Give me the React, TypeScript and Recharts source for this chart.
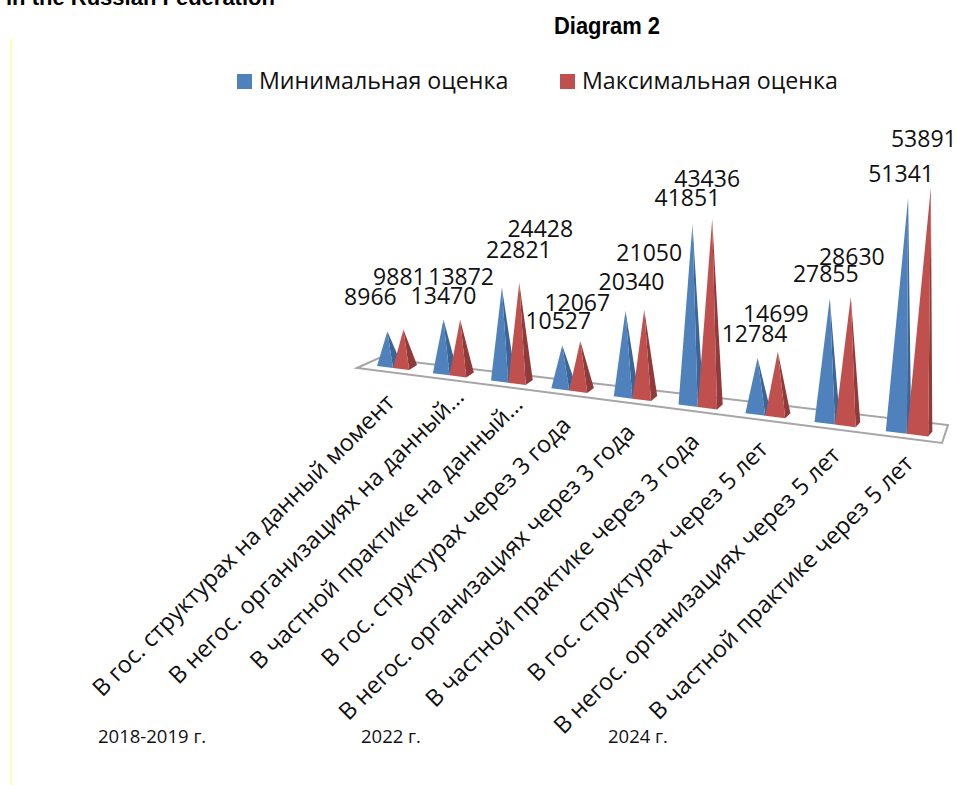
import { BarChart, Bar, XAxis, YAxis, Legend, LabelList, Customized } from 'recharts'

const categories = [
  'В гос. структурах на данный момент',
  'В негос. организациях на данный…',
  'В частной практике на данный…',
  'В гос. структурах через 3 года',
  'В негос. организациях через 3 года',
  'В частной практике через 3 года',
  'В гос. структурах через 5 лет',
  'В негос. организациях через 5 лет',
  'В частной практике через 5 лет',
]
const minValues = [8966, 13470, 22821, 10527, 20340, 41851, 12784, 27855, 51341]
const maxValues = [9881, 13872, 24428, 12067, 21050, 43436, 14699, 28630, 53891]
const periods = ['2018-2019 г.', '2022 г.', '2024 г.']

const data = categories.map((name, i) => ({ name, min: minValues[i], max: maxValues[i] }))

const FONT = '"Open Sans", sans-serif'
const PLOT_LEFT = 20
const BAND = 100
const GAP = 21

// perspective: plot units along the axis -> screen
const projectX = (t: number) => 377 + 54.8 * t + 1.1 * t * t
const floorY = (sx: number) => 366 + 0.128 * (sx - 377)
const toT = (x: number) => (x - PLOT_LEFT - GAP) / BAND

function apexOf(x: number, width: number, height: number) {
  const left = projectX(toT(x))
  const right = projectX(toT(x + width))
  const w = right - left
  const mid = (left + right) / 2
  const h = height * (1 + (0.15 * (mid - 390)) / 530)
  const u = (left - 377) / 508
  return {
    left,
    right,
    ax: left + (0.65 - 0.15 * u) * w + 0.05 * h * u * u,
    ay: floorY(mid) - h,
  }
}

function Cone(props: any) {
  const { x, width, height, fill, side } = props
  const { left, right, ax, ay } = apexOf(x, width, height)
  const sideDx = 8 - (4 * (left - 377)) / 550
  const front = `${left},${floorY(left)} ${right},${floorY(right)} ${ax},${ay}`
  const back = `${right},${floorY(right)} ${right + sideDx},${floorY(right) - 5} ${ax},${ay}`
  return (
    <g>
      <polygon points={back} fill={side} />
      <polygon points={front} fill={fill} />
    </g>
  )
}

// data labels were placed by hand in the original
const minNudge = [[-17, -35], [0, -25], [17, -39], [-4, -25], [6, -30], [-5, -27], [-3, -25], [-4, -25], [-7, -25]]
const maxNudge = [[-4, -53], [1, -44], [21, -55], [-3, -39], [5, -58], [-5, -41], [-2, -39], [1, -41], [-7, -49]]
const tickNudge = [1, 14, 14, 1, 2, 1, 2, 5, 6]

const valueLabel = (nudge: number[][]) => (props: any) => {
  const { x, width, height, value, index } = props
  const { ax, ay } = apexOf(x, width, height)
  return (
    <text x={ax + nudge[index][0]} y={ay + nudge[index][1]} textAnchor="middle" dominantBaseline="central"
      fontFamily={FONT} fontSize={23} fill="#111">
      {value}
    </text>
  )
}

function CategoryTick({ x, payload, index }: any) {
  const sx = projectX(toT(x))
  const px = sx + 2 + tickNudge[index]
  const py = floorY(sx) + 37 - tickNudge[index]
  return (
    <text x={px} y={py} textAnchor="end" transform={`rotate(-45 ${px} ${py})`}
      fontFamily={FONT} fontSize={23.5} fill="#111">
      {payload.value}
    </text>
  )
}

function LegendRow({ payload }: any) {
  const lefts = [237, 560]
  return (
    <div style={{ position: 'relative', height: 30, fontFamily: FONT, fontSize: 23.2, color: '#111' }}>
      {(payload || []).map((p: any, i: number) => (
        <div key={p.value} style={{ position: 'absolute', left: lefts[i], top: 0, whiteSpace: 'nowrap', lineHeight: '30px' }}>
          <span style={{ display: 'inline-block', width: 15, height: 15, background: p.color, marginRight: 7 }} />
          {p.value}
        </div>
      ))}
    </div>
  )
}

function Decor() {
  return (
    <g>
      <line x1={11} y1={39} x2={11} y2={785} stroke="#ffff66" strokeWidth={1} />
      <text x={6} y={5} fontFamily='"Liberation Sans", sans-serif' fontWeight="bold" fontSize={22} fill="#000">
        in the Russian Federation
      </text>
      <text x={554} y={34} fontFamily='"Liberation Sans", sans-serif' fontWeight="bold" fontSize={24}
        textLength={106} lengthAdjust="spacingAndGlyphs" fill="#000">
        Diagram 2
      </text>
      <polygon points="357,368 379,358 948,425 942,443" fill="#fff" stroke="#a6a6a6" strokeWidth={2} />
      {periods.map((p, i) => (
        <text key={p} x={[98, 361, 608][i]} y={743} fontFamily={FONT} fontSize={18.5} fill="#111">
          {p}
        </text>
      ))}
    </g>
  )
}

export default function App() {
  return (
    <div style={{ position: 'absolute', left: 0, top: 0, width: 957, height: 785, background: '#fff' }}>
      <BarChart width={957} height={785} data={data} barCategoryGap="21%" barGap={0}
        margin={{ top: 100, right: 37, bottom: 145, left: PLOT_LEFT }}>
        <Customized component={Decor} />
        <XAxis dataKey="name" height={300} interval={0} axisLine={false} tickLine={false} tick={CategoryTick} />
        <YAxis hide domain={[0, 60000]} />
        <Legend verticalAlign="middle" align="center" content={LegendRow} itemSorter={null as any}
          wrapperStyle={{ top: 65, left: 0, width: 957 }} />
        <Bar dataKey="min" name="Минимальная оценка" fill="#4F81BD" isAnimationActive={false}
          shape={(p: any) => <Cone {...p} side="#3A6595" />}>
          <LabelList dataKey="min" content={valueLabel(minNudge)} />
        </Bar>
        <Bar dataKey="max" name="Максимальная оценка" fill="#C0504D" isAnimationActive={false}
          shape={(p: any) => <Cone {...p} side="#8E3B39" />}>
          <LabelList dataKey="max" content={valueLabel(maxNudge)} />
        </Bar>
      </BarChart>
    </div>
  )
}
